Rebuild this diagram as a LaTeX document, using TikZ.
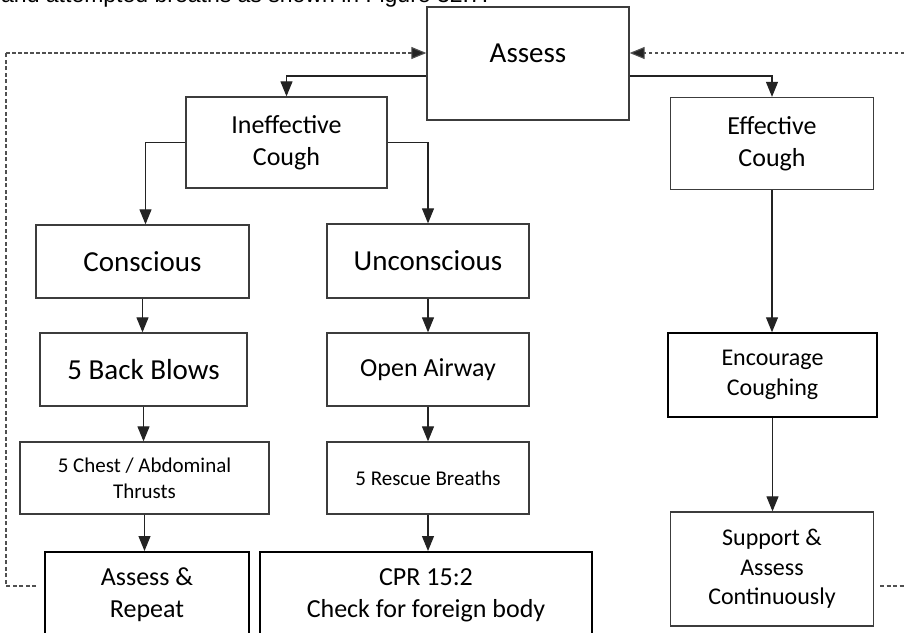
\documentclass[tikz,border=0pt]{standalone}
\usepackage{fontspec}
\setmainfont{Carlito}
\newfontfamily\arialfont{Liberation Sans}
\usetikzlibrary{arrows.meta}
\definecolor{boxgray}{RGB}{60,60,60}
\definecolor{arrgray}{RGB}{35,35,35}
\definecolor{dashgray}{RGB}{80,80,80}
\tikzset{
  box/.style={draw=boxgray, line width=1.3pt, inner sep=0pt, align=center, fill=white},
  boxthick/.style={box, draw=black, line width=1.8pt},
  fa/.style={font=\fontsize{29}{35}\selectfont},
  fb/.style={font=\fontsize{26}{32}\selectfont},
  fc/.style={font=\fontsize{24}{29.5}\selectfont},
  fd/.style={font=\fontsize{21}{26}\selectfont},
  arr/.style={draw=arrgray, line width=1.1pt, -{Triangle[width=12pt,length=15pt]}},
  dasharr/.style={draw=dashgray, line width=1.1pt, dash pattern=on 3.5pt off 2.5pt, -{Triangle[width=12pt,length=15pt,fill=arrgray]}},
  dashline/.style={draw=dashgray, line width=1.1pt, dash pattern=on 4pt off 2.5pt},
}
\begin{document}
\begin{tikzpicture}[x=1pt, y=-1pt]
\useasboundingbox (0,0) rectangle (904,632);
\clip (0,0) rectangle (904,632);
\fill[white] (0,0) rectangle (904,632);

% clipped caption line at top
\node[anchor=base west, inner sep=0pt, font=\arialfont\fontsize{23}{28}\selectfont] (caption) at (1,2) {and attempted breaths as shown in Figure 32.7.};

% boxes
\node[box, minimum width=202pt, minimum height=113pt] (assess) at (528,63.5) {};
\node[fa, inner sep=0pt] (assesstxt) at (528,53) {Assess};
\node[box, fb, minimum width=201pt, minimum height=91pt] (ineff) at (286.5,142.5) {Ineffective\\Cough};
\node[box, fb, minimum width=203pt, minimum height=92pt] (eff) at (772,143.5) {Effective\\Cough};
\node[box, fa, minimum width=213pt, minimum height=73pt] (consc) at (142.5,261.5) {Conscious};
\node[box, fa, minimum width=202pt, minimum height=74pt] (unconsc) at (428,261) {Unconscious};
\node[box, fa, minimum width=207pt, minimum height=73pt] (backblows) at (143.5,369.5) {5 Back Blows};
\node[box, fb, minimum width=202pt, minimum height=73pt] (airway) at (428,369.5) {Open Airway};
\node[box, fd, minimum width=249pt, minimum height=72pt] (chest) at (144.5,478) {5 Chest / Abdominal\\Thrusts};
\node[box, fd, minimum width=202pt, minimum height=72pt] (rescue) at (428,478) {5 Rescue Breaths};
\node[boxthick, fb, minimum width=204pt, minimum height=86pt, anchor=north] (repeat) at (147,551) {Assess \&\\Repeat};
\node[boxthick, fb, minimum width=332pt, minimum height=86pt, anchor=north] (cpr) at (426,551) {CPR 15:2\\Check for foreign body};
\node[boxthick, fc, line width=1.5pt, minimum width=209pt, minimum height=84pt] (encourage) at (772.5,375) {Encourage\\Coughing};
\node[box, fc, minimum width=203pt, minimum height=114pt] (support) at (772,569) {Support \&\\Assess\\Continuously};

% solid connectors
\draw[arr] ([yshift=-12.5pt]assess.west) -| (ineff.north);
\draw[arr] ([yshift=-12.5pt]assess.east) -| (eff.north);
\draw[arr] (ineff.west) -| ([xshift=3pt]consc.north);
\draw[arr] (ineff.east) -| (unconsc.north);
\draw[arr] (consc.south) -- (consc.south |- backblows.north);
\draw[arr] (backblows.south) -- (backblows.south |- chest.north);
\draw[arr] (chest.south) -- (chest.south |- repeat.north);
\draw[arr] (unconsc.south) -- (unconsc.south |- airway.north);
\draw[arr] (airway.south) -- (airway.south |- rescue.north);
\draw[arr] (rescue.south) -- (rescue.south |- cpr.north);
\draw[arr] (eff.south) -- (eff.south |- encourage.north);
\draw[arr] (encourage.south) -- (encourage.south |- support.north);

% dashed feedback loops
\coordinate (lstart) at (36,586);
\coordinate (lcorner) at (6,586);
\coordinate (ltop) at (6,53);
\coordinate (rstart) at (904,53);
\coordinate (rstub1) at (880,586);
\coordinate (rstub2) at (904,586);
\draw[dashline] (lstart) -- (lcorner) -- (ltop);
\draw[dasharr] (ltop) -- ([yshift=10.5pt]assess.west);
\draw[dasharr] (rstart) -- ([yshift=10.5pt]assess.east);
\draw[dashline] (rstub1) -- (rstub2);
\end{tikzpicture}
\end{document}
